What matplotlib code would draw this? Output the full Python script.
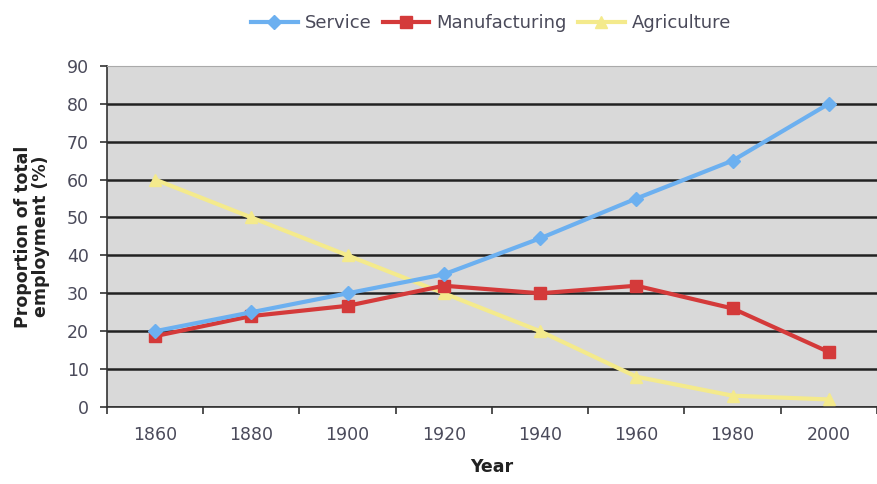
import numpy as np
import matplotlib
matplotlib.use("Agg")
import matplotlib.pyplot as plt

years = ["1860", "1880", "1900", "1920", "1940", "1960", "1980", "2000"]
service = [20, 25, 30, 35, 44.5, 55, 65, 80]
manufacturing = [18.7, 24, 26.7, 32, 30, 32, 26, 14.5]
agriculture = [60, 50, 40, 30, 20, 8, 3, 2]

plt.rcParams["font.family"] = "DejaVu Sans"

fig = plt.figure(figsize=(8.77, 4.84), dpi=100)
ax = fig.add_axes([0.122, 0.159, 0.878, 0.705])
ax.set_facecolor("#d9d9d9")

x = np.arange(len(years))
ax.plot(x, service, color="#6cb0f0", lw=3, marker="D", ms=7, label="Service", zorder=5)
ax.plot(x, manufacturing, color="#d43a3a", lw=3, marker="s", ms=9, label="Manufacturing", zorder=4)
ax.plot(x, agriculture, color="#f4ea8c", lw=3, marker="^", ms=9, label="Agriculture", zorder=3)

ax.set_xlim(-0.5, len(years) - 0.5)
ax.set_ylim(0, 90)
ax.set_yticks(np.arange(0, 91, 10))
ax.yaxis.grid(True, color="#222222", lw=1.8)
ax.yaxis.get_gridlines()[-1].set_visible(False)
ax.set_axisbelow(True)

ax.set_xticks(x)
ax.set_xticklabels(years)
ax.set_xticks(np.arange(-0.5, len(years), 1), minor=True)
ax.tick_params(axis="x", which="major", length=0, pad=14)
ax.tick_params(axis="x", which="minor", length=5, width=1.2, color="#333333")
ax.tick_params(axis="y", length=5, width=1.2, color="#333333", pad=8)
ax.tick_params(labelsize=12.5, labelcolor="#4a4a5a")

ax.spines["right"].set_visible(False)
ax.spines["top"].set_color("#aaaaaa")
ax.spines["left"].set_color("#333333")
ax.spines["left"].set_linewidth(1.2)
ax.spines["bottom"].set_color("#333333")
ax.spines["bottom"].set_linewidth(1.2)

ax.set_xlabel("Year", fontsize=12.5, fontweight="bold", color="#222222", labelpad=10)
ax.set_ylabel("Proportion of total\nemployment (%)", fontsize=12.5, fontweight="bold",
              color="#222222", labelpad=12, linespacing=1.0)

leg = fig.legend(loc="upper center", bbox_to_anchor=(0.56, 1.005), ncol=3, frameon=False,
                 fontsize=13, handlelength=2.6, columnspacing=0.6, handletextpad=0.4)
for t in leg.get_texts():
    t.set_color("#4a4a5a")

fig.savefig("out.png", dpi=100)
